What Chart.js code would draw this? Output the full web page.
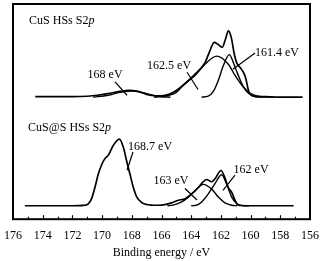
<!DOCTYPE html>
<html>
<head>
<meta charset="utf-8">
<script src="https://cdn.jsdelivr.net/npm/chart.js@4/dist/chart.umd.min.js"></script>
<style>
  html, body { margin: 0; padding: 0; background: #fff; }
  #wrap { width: 325px; height: 261px; }
</style>
</head>
<body>
<div id="wrap"><canvas id="xps"></canvas></div>
<script>
// x ticks (binding energy, eV)
const tickValues = [176, 174, 172, 170, 168, 166, 164, 162, 160, 158, 156];

// CuS HSs S2p - measured envelope
const topEnvE = [174.5, 172, 171, 170.3, 169.5, 168.8, 168.2, 167.6, 167, 166.5, 166, 165.5, 165, 164.42, 163.74, 163.07, 162.85, 162.44, 162.2, 161.91, 161.7, 161.5, 161.3, 161.1, 160.94, 160.71, 160.49, 160.33, 160.16, 160.04, 159.7, 159, 158, 156.5];
const topEnvI = [0.5, 0.5, 1, 2, 4, 6, 7, 6, 3, 1.5, 1.5, 3, 7, 14, 24, 36, 44, 57, 55, 52, 60, 69, 62, 45, 36, 31, 26, 20, 8, 3, 1, 0.5, 0, 0];
// fitted components
const top168E = [170.6, 169.6, 168.8, 168, 167.3, 166.6, 166, 165.4];
const top168I = [0, 2, 5, 6.5, 5, 2, 0.5, 0];
const top1625E = [166.5, 165.5, 165, 164.42, 163.74, 163.07, 162.28, 161.5, 161.05, 160.6, 160.04, 159.25, 158.5];
const top1625I = [0, 2, 5, 14.3, 22.7, 34.3, 42.7, 34.3, 22.7, 12.7, 4.3, 0.5, 0];
const top1614E = [163.3, 162.85, 162.51, 162.17, 161.84, 161.43, 161.16, 160.83, 160.49, 160.16, 159.7, 159.2];
const top1614I = [0, 1, 6, 17.7, 32.7, 44.3, 36, 22.7, 11, 4.3, 0.5, 0];

// CuS@S HSs S2p - measured envelope
const botEnvE = [175.2, 172, 171.27, 170.93, 170.7, 170.48, 170.26, 170.03, 169.8, 169.58, 169.25, 168.84, 168.57, 168.34, 168.12, 167.9, 167.67, 167.33, 166.89, 166.5, 165.99, 165.31, 164.87, 164.42, 163.97, 163.52, 163.19, 162.96, 162.62, 162.4, 161.99, 161.73, 161.5, 161.27, 161.05, 160.83, 160, 157.1];
const botEnvI = [0, 0, 0.3, 2, 7.7, 19.3, 32.7, 42.7, 49.3, 52.7, 62.7, 69.3, 61, 46, 32.7, 19.3, 9.3, 3.3, 1, 0.5, 0.7, 3, 5.7, 7.3, 12.3, 19, 25, 27.3, 25, 28, 36.7, 29, 19, 14, 5.7, 0.5, 0, 0];
// fitted components
const bot163E = [165.6, 165.21, 164.64, 164.19, 163.74, 163.19, 162.62, 162.17, 161.73, 161.27, 160.9];
const bot163I = [0, 0.7, 4, 9, 15.7, 22.3, 17.3, 9, 3, 0.5, 0];
const bot162E = [164, 163.63, 163.29, 162.85, 162.4, 161.95, 161.61, 161.27, 160.94, 160.49, 160.1];
const bot162I = [0, 0.7, 4, 12.3, 23, 32.3, 22.3, 9, 2.3, 0, 0];

const TOP_OFFSET = 127;
const BOT_OFFSET = 14;

function series(E, I, off) {
  return E.map((e, k) => ({ x: e, y: I[k] + off }));
}

function line(data, w) {
  return {
    data: data,
    borderColor: '#000',
    borderWidth: w,
    pointRadius: 0,
    fill: false,
    cubicInterpolationMode: 'monotone'
  };
}

// labels and leader lines, in data units (energy, y)
const notes = [
  { text: 'CuS HSs S2', italic: 'p', x: 174.92, y: 206, align: 'left' },
  { text: 'CuS@S HSs S2', italic: 'p', x: 174.99, y: 95, align: 'left' },
  { text: '168 eV', x: 169.8, y: 150, lead: [169.13, 143, 168.32, 129] },
  { text: '162.5 eV', x: 165.49, y: 160, lead: [164.28, 153, 163.54, 135] },
  { text: '161.4 eV', x: 158.22, y: 173, lead: [159.70, 173, 161.19, 156] },
  { text: '168.7 eV', x: 166.77, y: 75, lead: [167.92, 70, 168.32, 51] },
  { text: '163 eV', x: 165.36, y: 40, lead: [164.42, 32, 163.61, 20] },
  { text: '162 eV', x: 159.97, y: 51, lead: [161.05, 46, 161.86, 30] }
];

const FONT = '12px "Liberation Serif", "Times New Roman", serif';

const decor = {
  id: 'decor',
  afterDraw(chart) {
    const ctx = chart.ctx;
    const a = chart.chartArea;
    const xs = chart.scales.x, ys = chart.scales.y;
    ctx.save();
    // frame
    ctx.strokeStyle = '#000';
    ctx.lineWidth = 2;
    ctx.strokeRect(a.left, a.top, a.right - a.left, a.bottom - a.top);
    // inward ticks
    ctx.lineWidth = 1.2;
    for (let v = 157; v <= 175; v++) {
      const px = Math.round(xs.getPixelForValue(v)) + 0.5;
      const len = v % 2 === 0 ? 4 : 2.5;
      ctx.beginPath();
      ctx.moveTo(px, a.bottom);
      ctx.lineTo(px, a.bottom - len);
      ctx.stroke();
    }
    // labels
    ctx.fillStyle = '#000';
    ctx.textBaseline = 'middle';
    notes.forEach(n => {
      const px = xs.getPixelForValue(n.x), py = ys.getPixelForValue(n.y);
      ctx.font = FONT;
      if (n.italic) {
        ctx.textAlign = 'left';
        ctx.fillText(n.text, px, py);
        const w = ctx.measureText(n.text).width;
        ctx.font = 'italic ' + FONT;
        ctx.fillText(n.italic, px + w, py);
      } else {
        ctx.textAlign = 'center';
        ctx.fillText(n.text, px, py);
      }
      if (n.lead) {
        ctx.lineWidth = 1.2;
        ctx.beginPath();
        ctx.moveTo(xs.getPixelForValue(n.lead[0]), ys.getPixelForValue(n.lead[1]));
        ctx.lineTo(xs.getPixelForValue(n.lead[2]), ys.getPixelForValue(n.lead[3]));
        ctx.stroke();
      }
    });
    ctx.restore();
  }
};

new Chart(document.getElementById('xps'), {
  type: 'line',
  data: {
    datasets: [
      line(series(topEnvE, topEnvI, TOP_OFFSET), 1.7),
      line(series(top168E, top168I, TOP_OFFSET), 1.4),
      line(series(top1625E, top1625I, TOP_OFFSET), 1.4),
      line(series(top1614E, top1614I, TOP_OFFSET), 1.4),
      line(series(botEnvE, botEnvI, BOT_OFFSET), 1.7),
      line(series(bot163E, bot163I, BOT_OFFSET), 1.4),
      line(series(bot162E, bot162I, BOT_OFFSET), 1.4)
    ]
  },
  options: {
    responsive: true,
    maintainAspectRatio: false,
    animation: false,
    layout: { padding: { left: 13, right: 15, top: 4, bottom: 0 } },
    plugins: { legend: { display: false }, tooltip: { enabled: false } },
    scales: {
      x: {
        type: 'linear',
        reverse: true,
        min: 156,
        max: 176,
        grid: { display: false },
        border: { display: false },
        afterBuildTicks: s => { s.ticks = tickValues.map(v => ({ value: v })); },
        ticks: {
          color: '#000',
          font: { family: '"Liberation Serif", "Times New Roman", serif', size: 12 },
          padding: 1,
          autoSkip: false,
          maxRotation: 0
        },
        title: {
          display: true,
          text: 'Binding energy / eV',
          color: '#000',
          font: { family: '"Liberation Serif", "Times New Roman", serif', size: 12 },
          padding: { top: 2, bottom: 1 }
        }
      },
      y: { display: false, min: 0, max: 224 }
    }
  },
  plugins: [decor]
});
</script>
</body>
</html>
